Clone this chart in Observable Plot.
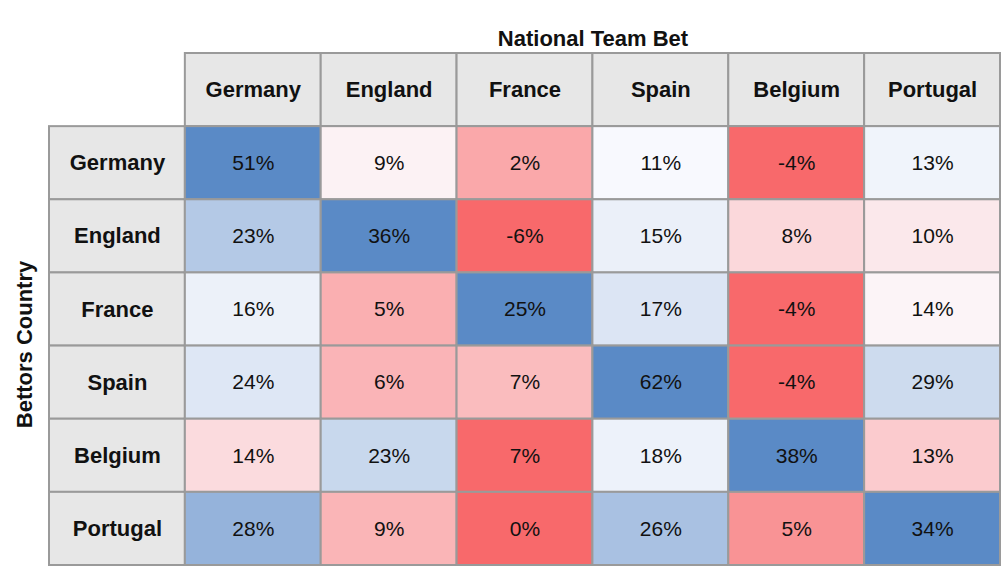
<!DOCTYPE html>
<html>
<head>
<meta charset="utf-8">
<script src="https://cdn.jsdelivr.net/npm/d3@7"></script>
<script src="https://cdn.jsdelivr.net/npm/@observablehq/plot@0.6"></script>
<style>
  html, body { margin: 0; padding: 0; background: #fff; }
  #chart svg { display: block; }
</style>
</head>
<body>
<div id="chart"></div>
<script>
// Columns: national team bet on; rows: bettors' country
const teams = ["Germany", "England", "France", "Spain", "Belgium", "Portugal"];
const bettors = ["Germany", "England", "France", "Spain", "Belgium", "Portugal"];

// Values in % (one array per bettors' country, in the order of `teams`)
const germanyRow  = [51,  9,  2, 11, -4, 13];
const englandRow  = [23, 36, -6, 15,  8, 10];
const franceRow   = [16,  5, 25, 17, -4, 14];
const spainRow    = [24,  6,  7, 62, -4, 29];
const belgiumRow  = [14, 23,  7, 18, 38, 13];
const portugalRow = [28,  9,  0, 26,  5, 34];

const rows = [germanyRow, englandRow, franceRow, spainRow, belgiumRow, portugalRow];

const HEAD = "\u0000head";
const RED = "#F8696B", MID = "#FCFCFF", BLUE = "#5A8AC6";

// Per-row three-colour scale (min red, median white, max blue)
const cells = [];
rows.forEach((vals, r) => {
  const s = d3.scaleLinear()
    .domain([d3.min(vals), d3.median(vals), d3.max(vals)])
    .range([RED, MID, BLUE])
    .interpolate(d3.interpolateRgb);
  vals.forEach((v, c) => cells.push({bettor: bettors[r], team: teams[c], value: v, fill: s(v)}));
});

const colHeads = teams.map(t => ({x: t, y: HEAD, label: t}));
const rowHeads = bettors.map(b => ({x: HEAD, y: b, label: b}));

const font = "'Liberation Sans', Arial, sans-serif";
const fmt = v => `${v}%`;
const GRID = "#9a9a9a";

const chart = Plot.plot({
  width: 1002,
  height: 568,
  marginLeft: 49,
  marginRight: 2,
  marginTop: 53,
  marginBottom: 3,
  style: {fontFamily: font, background: "#fff", overflow: "visible"},
  x: {domain: [HEAD, ...teams], axis: null, padding: 0, round: false},
  y: {domain: [HEAD, ...bettors], axis: null, padding: 0, round: false},
  color: {type: "identity"},
  marks: [
    Plot.cell(colHeads, {x: "x", y: "y", fill: "#e7e7e7", stroke: GRID, strokeWidth: 2}),
    Plot.cell(rowHeads, {x: "x", y: "y", fill: "#e7e7e7", stroke: GRID, strokeWidth: 2}),
    Plot.cell(cells, {x: "team", y: "bettor", fill: "fill", stroke: GRID, strokeWidth: 2}),
    Plot.text(colHeads, {x: "x", y: "y", text: "label", fontSize: 22, fontWeight: "bold", fill: "#111", letterSpacing: "1px"}),
    Plot.text(rowHeads, {x: "x", y: "y", text: "label", fontSize: 22, fontWeight: "bold", fill: "#111", letterSpacing: "1px"}),
    Plot.text(cells, {x: "team", y: "bettor", text: d => fmt(d.value), fontSize: 21, fill: "#111"}),
    Plot.text(["National Team Bet"], {frameAnchor: "top", textAnchor: "middle", lineAnchor: "bottom", dx: 68, dy: -8, fontSize: 22, fontWeight: "bold", fill: "#111", letterSpacing: "1.2px"}),
    Plot.text(["Bettors Country"], {frameAnchor: "left", textAnchor: "middle", rotate: -90, dx: -25, dy: 35, fontSize: 22, fontWeight: "bold", fill: "#111", letterSpacing: "1.2px"})
  ]
});

document.getElementById("chart").appendChild(chart);
</script>
</body>
</html>
